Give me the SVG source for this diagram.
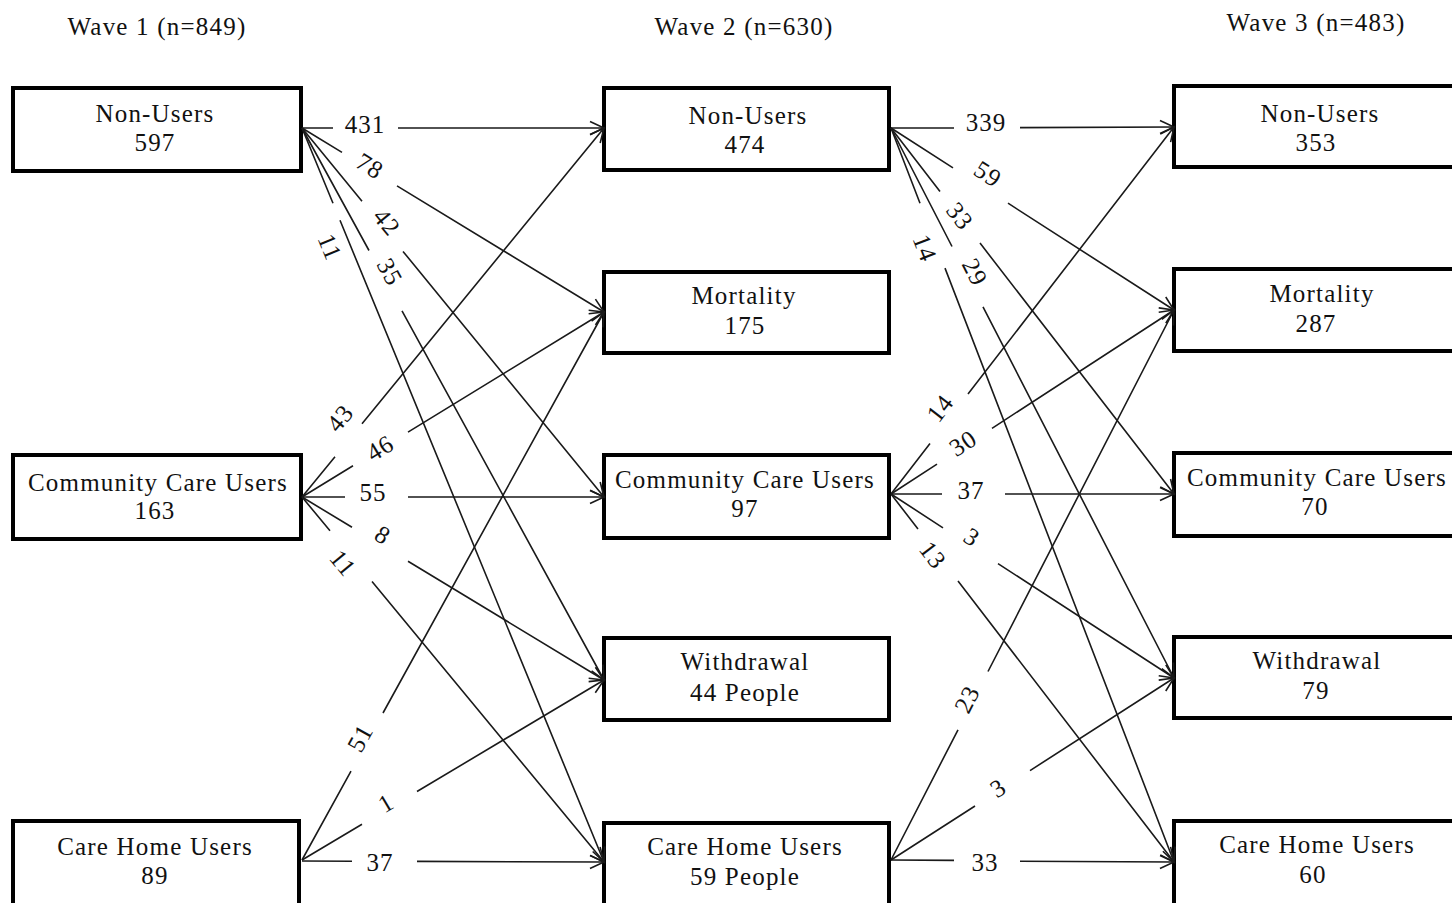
<svg xmlns="http://www.w3.org/2000/svg" width="1452" height="903" viewBox="0 0 1452 903">
<style>
.box{fill:#fff;stroke:#000;stroke-width:4}
.t{font-family:"Liberation Serif","Times New Roman",serif;font-size:25px;letter-spacing:1.2px;fill:#111;text-anchor:middle}
.ttl{font-family:"Liberation Serif","Times New Roman",serif;font-size:25px;letter-spacing:1.2px;fill:#111;text-anchor:middle}
.c{fill:none;stroke:#1a1a1a;stroke-width:1.6;marker-end:url(#ah)}
.lb{font-family:"Liberation Serif","Times New Roman",serif;font-size:25px;letter-spacing:1px;fill:#111;text-anchor:middle;dominant-baseline:central}
</style>
<defs>
<marker id="ah" markerUnits="userSpaceOnUse" markerWidth="20" markerHeight="20" refX="0" refY="0" viewBox="-16 -10 20 20" orient="auto">
<path d="M-14,-6.5 L0,0 L-14,6.5" fill="none" stroke="#1a1a1a" stroke-width="1.6"/>
</marker>
</defs>
<rect width="1452" height="903" fill="#fff"/>
<g id="titles">
<text class="ttl" x="157" y="35">Wave 1 (n=849)</text>
<text class="ttl" x="744" y="35">Wave 2 (n=630)</text>
<text class="ttl" x="1316" y="31">Wave 3 (n=483)</text>
</g>
<g id="w1-nonusers"><rect class="box" x="13" y="88" width="288" height="83"/><text class="t" x="155" y="122">Non-Users</text><text class="t" x="155" y="151">597</text></g>
<g id="w1-community"><rect class="box" x="13" y="455" width="288" height="84"/><text class="t" x="158" y="491">Community Care Users</text><text class="t" x="155" y="519">163</text></g>
<g id="w1-carehome"><rect class="box" x="13" y="821" width="286" height="90"/><text class="t" x="155" y="855">Care Home Users</text><text class="t" x="155" y="884">89</text></g>
<g id="w2-nonusers"><rect class="box" x="604" y="88" width="285" height="82"/><text class="t" x="748" y="124">Non-Users</text><text class="t" x="745" y="153">474</text></g>
<g id="w2-mortality"><rect class="box" x="604" y="272" width="285" height="81"/><text class="t" x="744" y="304">Mortality</text><text class="t" x="745" y="334">175</text></g>
<g id="w2-community"><rect class="box" x="604" y="455" width="285" height="83"/><text class="t" x="745" y="488">Community Care Users</text><text class="t" x="745" y="517">97</text></g>
<g id="w2-withdrawal"><rect class="box" x="604" y="638" width="285" height="82"/><text class="t" x="745" y="670">Withdrawal</text><text class="t" x="745" y="701">44 People</text></g>
<g id="w2-carehome"><rect class="box" x="604" y="823" width="285" height="90"/><text class="t" x="745" y="855">Care Home Users</text><text class="t" x="745" y="885">59 People</text></g>
<g id="w3-nonusers"><rect class="box" x="1174" y="86" width="290" height="81"/><text class="t" x="1320" y="122">Non-Users</text><text class="t" x="1316" y="151">353</text></g>
<g id="w3-mortality"><rect class="box" x="1174" y="269" width="290" height="82"/><text class="t" x="1322" y="302">Mortality</text><text class="t" x="1316" y="332">287</text></g>
<g id="w3-community"><rect class="box" x="1174" y="453" width="290" height="83"/><text class="t" x="1317" y="486" letter-spacing="0.6">Community Care Users</text><text class="t" x="1315" y="515">70</text></g>
<g id="w3-withdrawal"><rect class="box" x="1174" y="637" width="290" height="81"/><text class="t" x="1317" y="669">Withdrawal</text><text class="t" x="1316" y="699">79</text></g>
<g id="w3-carehome"><rect class="box" x="1174" y="821" width="290" height="90"/><text class="t" x="1317" y="853">Care Home Users</text><text class="t" x="1313" y="883">60</text></g>
<g id="connectors">
<path class="c" d="M302,128 L333,128 M398,128 L604,128"/>
<path class="c" d="M302,128 L342,152.4 M397,185.9 L604,312"/>
<path class="c" d="M302,128 L362,201.3 M403,251.4 L604,497"/>
<path class="c" d="M302,128 L369,250.5 M402,310.8 L604,680"/>
<path class="c" d="M302,128 L333,203.3 M340,220.3 L604,862"/>
<path class="c" d="M302,497 L335,456.7 M362,423.7 L604,128"/>
<path class="c" d="M302,497 L353,465.8 M408,432.1 L604,312"/>
<path class="c" d="M302,497 L345,497 M408,497 L604,497"/>
<path class="c" d="M302,497 L352,527.3 M408,561.2 L604,680"/>
<path class="c" d="M302,497 L330,530.8 M372,581.6 L604,862"/>
<path class="c" d="M302,860 L351,771.1 M383,713 L604,312"/>
<path class="c" d="M302,860 L362,824.2 M417,791.5 L604,680"/>
<path class="c" d="M302,861 L352,861.2 M417,861.4 L604,862"/>
<path class="c" d="M891,128 L954,128 M1020,127.6 L1174,127"/>
<path class="c" d="M891,128 L953,167.9 M1008,203.2 L1174,310"/>
<path class="c" d="M891,128 L940,191.4 M980,243.1 L1174,494"/>
<path class="c" d="M891,128 L952,246.5 M983,306.8 L1174,678"/>
<path class="c" d="M891,128 L920,203.2 M945,268.1 L1174,862"/>
<path class="c" d="M891,494 L930,443.4 M968,394.1 L1174,127"/>
<path class="c" d="M891,494 L937,464.1 M992,428.3 L1174,310"/>
<path class="c" d="M891,494 L942,494 M1005,494 L1174,494"/>
<path class="c" d="M891,494 L943,527.8 M998,563.6 L1174,678"/>
<path class="c" d="M891,494 L918,529.1 M958,581.1 L1174,862"/>
<path class="c" d="M891,860 L958,729.8 M988,671.5 L1174,310"/>
<path class="c" d="M891,860 L975,806 M1030,770.6 L1174,678"/>
<path class="c" d="M891,860 L954,860.4 M1020,861.2 L1174,862"/>
</g>
<g id="labels">
<text class="lb" transform="translate(365,124)">431</text>
<text class="lb" transform="translate(370,166) rotate(31.3)">78</text>
<text class="lb" transform="translate(387,222) rotate(50.7)">42</text>
<text class="lb" transform="translate(390,272) rotate(61.3)">35</text>
<text class="lb" transform="translate(330,247) rotate(67.6)">11</text>
<text class="lb" transform="translate(340,418) rotate(-50.7)">43</text>
<text class="lb" transform="translate(380,448) rotate(-31.5)">46</text>
<text class="lb" transform="translate(373,492)">55</text>
<text class="lb" transform="translate(383,535) rotate(31.2)">8</text>
<text class="lb" transform="translate(343,563) rotate(50.4)">11</text>
<text class="lb" transform="translate(360,738) rotate(-61.1)">51</text>
<text class="lb" transform="translate(386,803) rotate(-30.8)">1</text>
<text class="lb" transform="translate(380,862)">37</text>
<text class="lb" transform="translate(986,122)">339</text>
<text class="lb" transform="translate(988,174) rotate(32.7)">59</text>
<text class="lb" transform="translate(960,216) rotate(52.3)">33</text>
<text class="lb" transform="translate(975,272) rotate(62.8)">29</text>
<text class="lb" transform="translate(925,248) rotate(68.9)">14</text>
<text class="lb" transform="translate(940,408) rotate(-52.4)">14</text>
<text class="lb" transform="translate(963,443) rotate(-33)">30</text>
<text class="lb" transform="translate(971,490)">37</text>
<text class="lb" transform="translate(972,537) rotate(33)">3</text>
<text class="lb" transform="translate(933,555) rotate(52.4)">13</text>
<text class="lb" transform="translate(967,699) rotate(-62.8)">23</text>
<text class="lb" transform="translate(998,788) rotate(-32.7)">3</text>
<text class="lb" transform="translate(985,862)">33</text>
</g>
</svg>
